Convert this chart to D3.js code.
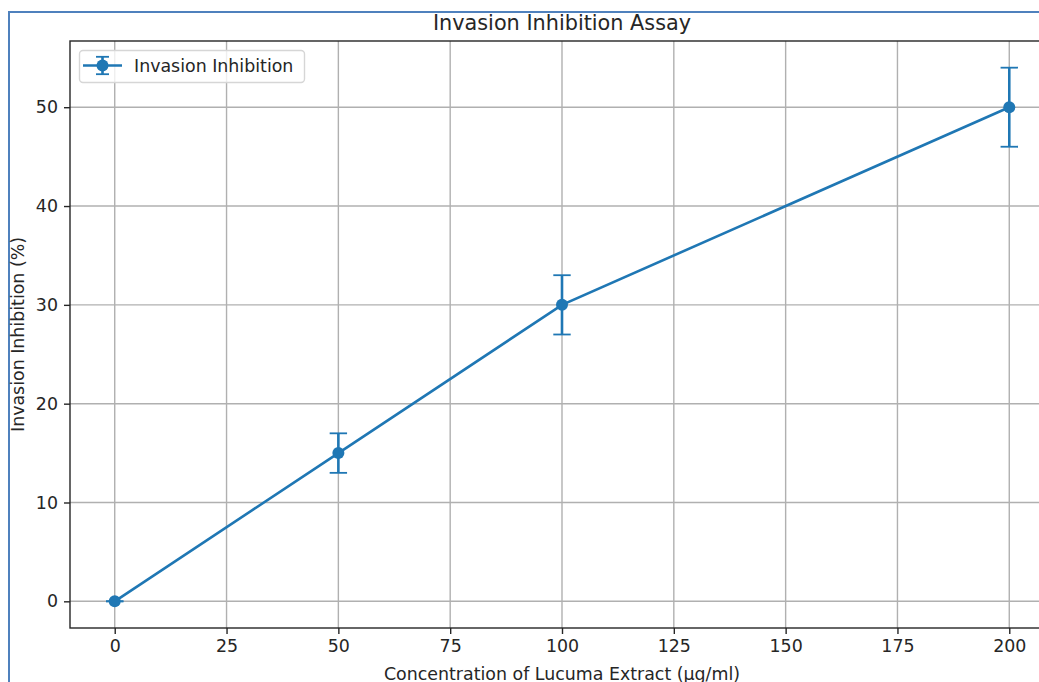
<!DOCTYPE html>
<html><head><meta charset="utf-8">
<script src="https://cdn.jsdelivr.net/npm/d3@7"></script>
<style>html,body{margin:0;padding:0;background:#fff;overflow:hidden}svg{display:block}text{font-family:"DejaVu Sans",sans-serif;fill:#262626}</style>
</head><body>
<svg id="c" width="1039" height="682"></svg>
<script>
const concentrations = [0, 50, 100, 200];
const inhibition = [0, 15, 30, 50];
const errors = [0, 2, 3, 4];
const xTicks = [0, 25, 50, 75, 100, 125, 150, 175, 200];
const yTicks = [0, 10, 20, 30, 40, 50];
const seriesName = "Invasion Inhibition";

const svg = d3.select("#c");
const color = "#1f77b4";
const L = 70, R = 1054, T = 41, B = 628;
const x = d3.scaleLinear().domain([-10, 210]).range([L, R]);
const y = d3.scaleLinear().domain([-2.7, 56.7]).range([B, T]);

// outer blue frame
svg.append("rect").attr("x", 9).attr("y", 12).attr("width", 1100).attr("height", 800)
  .attr("fill", "none").attr("stroke", "#4f81bd").attr("stroke-width", 2);

// grid
const g = svg.append("g");
g.selectAll("line.gx").data(xTicks).join("line")
  .attr("x1", d => x(d)).attr("x2", d => x(d)).attr("y1", T).attr("y2", B)
  .attr("stroke", "#b0b0b0").attr("stroke-width", 1.4);
g.selectAll("line.gy").data(yTicks).join("line")
  .attr("y1", d => y(d)).attr("y2", d => y(d)).attr("x1", L).attr("x2", R)
  .attr("stroke", "#b0b0b0").attr("stroke-width", 1.4);

// axes
const xAxis = d3.axisBottom(x).tickValues(xTicks).tickSize(6).tickPadding(6).tickSizeOuter(0);
const yAxis = d3.axisLeft(y).tickValues(yTicks).tickSize(6).tickPadding(6).tickSizeOuter(0);
const gx = svg.append("g").attr("transform", `translate(0,${B})`).call(xAxis);
const gy = svg.append("g").attr("transform", `translate(${L},0)`).call(yAxis);
[gx, gy].forEach(a => {
  a.select(".domain").remove();
  a.selectAll(".tick line").attr("stroke", "#262626").attr("stroke-width", 1.4);
  a.selectAll(".tick text").attr("font-size", 17.4).attr("font-family", "DejaVu Sans").attr("fill", "#262626");
});
// spines
svg.append("rect").attr("x", L).attr("y", T).attr("width", R - L).attr("height", B - T)
  .attr("fill", "none").attr("stroke", "#262626").attr("stroke-width", 1.4);

// line
const line = d3.line().x((d, i) => x(concentrations[i])).y(d => y(d));
svg.append("path").datum(inhibition).attr("d", line).attr("fill", "none")
  .attr("stroke", color).attr("stroke-width", 2.6);

// error bars
const eb = svg.append("g").attr("stroke", color).attr("stroke-width", 2.6);
concentrations.forEach((c, i) => {
  const cx = x(c), y1 = y(inhibition[i] - errors[i]), y2 = y(inhibition[i] + errors[i]);
  eb.append("line").attr("x1", cx).attr("x2", cx).attr("y1", y1).attr("y2", y2);
  eb.append("line").attr("x1", cx - 8.7).attr("x2", cx + 8.7).attr("y1", y1).attr("y2", y1).attr("stroke-width", 1.8);
  eb.append("line").attr("x1", cx - 8.7).attr("x2", cx + 8.7).attr("y1", y2).attr("y2", y2).attr("stroke-width", 1.8);
});
svg.append("g").selectAll("circle").data(inhibition).join("circle")
  .attr("cx", (d, i) => x(concentrations[i])).attr("cy", d => y(d)).attr("r", 6).attr("fill", color);

// title & labels
svg.append("text").attr("x", (L + R) / 2).attr("y", 30).attr("text-anchor", "middle")
  .attr("font-size", 20.8).text("Invasion Inhibition Assay");
svg.append("text").attr("x", (L + R) / 2).attr("y", 680).attr("text-anchor", "middle")
  .attr("font-size", 17.4).text("Concentration of Lucuma Extract (μg/ml)");
svg.append("text").attr("transform", `translate(24,${(T + B) / 2}) rotate(-90)`).attr("text-anchor", "middle")
  .attr("font-size", 17.4).text("Invasion Inhibition (%)");

// legend
const lg = svg.append("g");
lg.append("rect").attr("x", 79.5).attr("y", 50.5).attr("width", 225).attr("height", 32).attr("rx", 3.5)
  .attr("fill", "rgba(255,255,255,0.8)").attr("stroke", "#d6d6d6").attr("stroke-width", 1.4);
const ly = 65.5;
lg.append("line").attr("x1", 83).attr("x2", 122).attr("y1", ly).attr("y2", ly).attr("stroke", color).attr("stroke-width", 2.6);
lg.append("line").attr("x1", 102.5).attr("x2", 102.5).attr("y1", ly - 8.7).attr("y2", ly + 8.7).attr("stroke", color).attr("stroke-width", 2.6);
lg.append("line").attr("x1", 96).attr("x2", 109).attr("y1", ly - 8.7).attr("y2", ly - 8.7).attr("stroke", color).attr("stroke-width", 1.8);
lg.append("line").attr("x1", 96).attr("x2", 109).attr("y1", ly + 8.7).attr("y2", ly + 8.7).attr("stroke", color).attr("stroke-width", 1.8);
lg.append("circle").attr("cx", 102.5).attr("cy", ly).attr("r", 6).attr("fill", color);
lg.append("text").attr("x", 134).attr("y", ly + 6).attr("font-size", 17.4).text(seriesName);
</script>
</body></html>
